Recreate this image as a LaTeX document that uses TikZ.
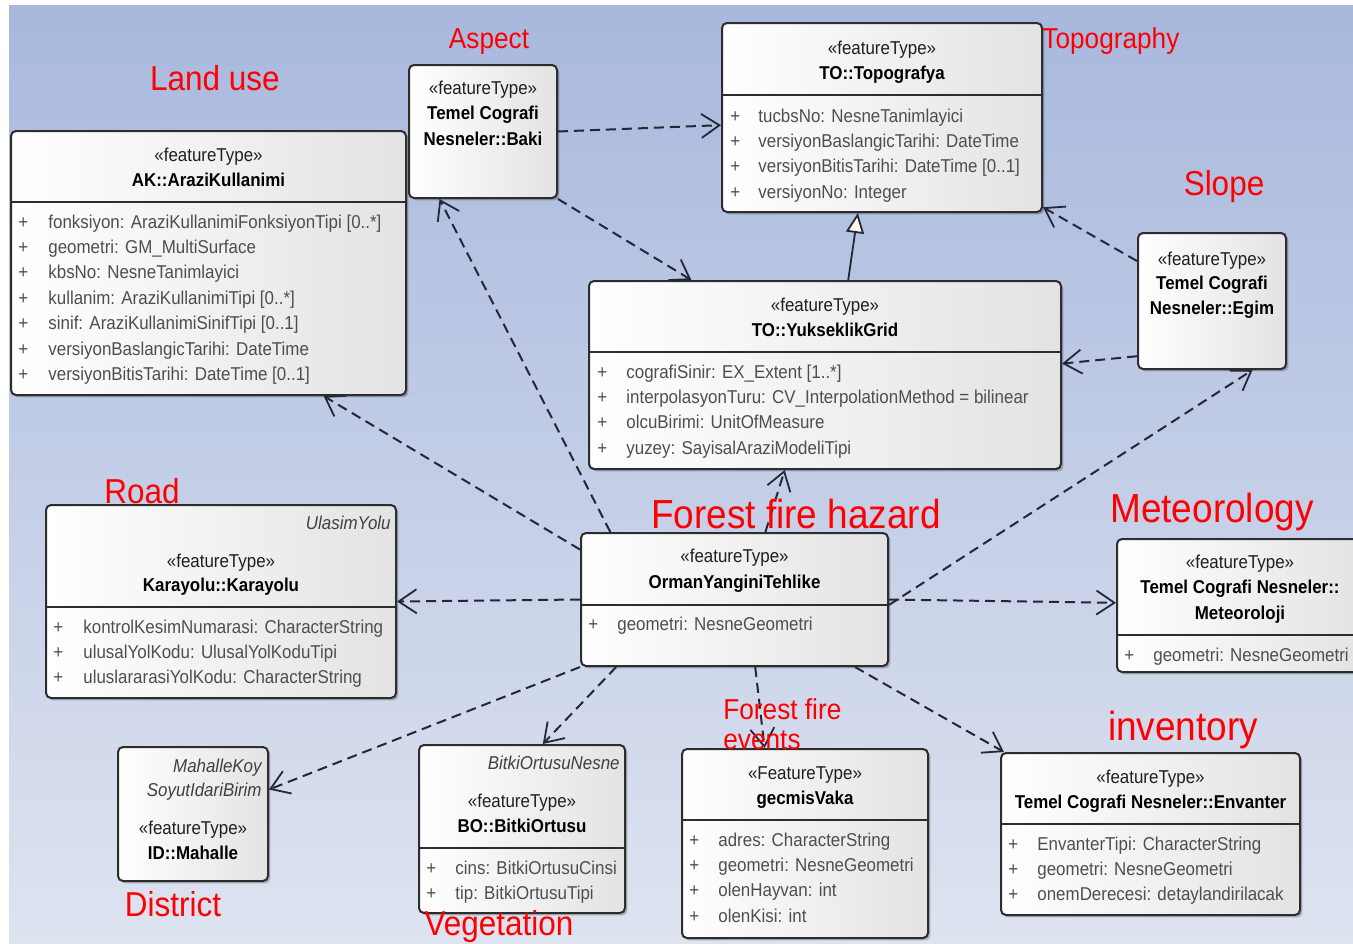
\documentclass[tikz,border=0pt]{standalone}
\usepackage{fontspec}
\setmainfont{Liberation Sans}[FakeStretch=0.91]
\usetikzlibrary{arrows.meta,calc,fit,shadows}

\definecolor{bgtop}{RGB}{168,184,221}
\definecolor{bgbot}{RGB}{222,227,240}
\definecolor{edge}{RGB}{45,45,45}
\definecolor{attrcol}{RGB}{78,78,78}
\definecolor{linecol}{RGB}{35,40,52}
\definecolor{cream}{RGB}{255,250,232}
\definecolor{tagred}{RGB}{255,0,0}

% attribute rows of a class box: #1 box name, #2 x of "+", #3 x of text,
% #4 baseline of first row, #5 rows
\newcommand\attrlist[5]{%
  \foreach \row [count=\k from 0] in {#5}{%
    \node[attr] (#1-p\k) at (#2,#4+25.4*\k) {+};
    \node[attr] (#1-a\k) at (#3,#4+25.4*\k) {\row};
  }}

\begin{document}
\begin{tikzpicture}[x=0.5pt,y=-0.5pt,
  umlbox/.style={draw=edge, line width=1pt, rounded corners=2.5pt, inner sep=0pt,
    left color=white, right color=black!11,
    drop shadow={shadow xshift=1.2pt, shadow yshift=-1.2pt, opacity=0.22, fill=black}},
  divline/.style={draw=edge, line width=1pt},
  boxtxt/.style={inner sep=0pt, anchor=base, font=\fontsize{9.3}{11}\selectfont},
  stereo/.style={boxtxt, text=black!88},
  cname/.style={boxtxt, text=black, font=\fontsize{9.3}{11}\selectfont\bfseries},
  attr/.style={boxtxt, anchor=base west, text=attrcol},
  ital/.style={boxtxt, anchor=base east, text=black!75, font=\fontsize{9.3}{11}\selectfont\itshape},
  tag/.style={inner sep=0pt, anchor=base, text=tagred},
  tagS/.style={tag, font=\fontsize{14.4}{17}\selectfont},
  tagM/.style={tag, font=\fontsize{17.3}{20}\selectfont},
  tagL/.style={tag, font=\fontsize{20.3}{24}\selectfont},
  dep/.style={draw=linecol, line width=1pt, dash pattern=on 5pt off 3pt,
    -{Straight Barb[length=9pt,width=12pt,line width=0.9pt]}},
  gen/.style={draw=linecol, line width=0.9pt,
    -{Triangle[length=10pt,width=9pt,fill=cream,line width=0.9pt]}}
]
\useasboundingbox (0,0) rectangle (1353,943);

% background
\fill[white] (0,0) rectangle (1353,943);
\shade[top color=bgtop, bottom color=bgbot] (9,5) rectangle (1353,943);

% ---------- class boxes ----------
\node[umlbox, fit={(11,131) (406,395)}] (ak) {};
\node[umlbox, fit={(409,65) (557,198)}] (baki) {};
\node[umlbox, fit={(722,23) (1042,212)}] (topo) {};
\node[umlbox, fit={(1138,233) (1286,369)}] (egim) {};
\node[umlbox, fit={(589,281) (1061,469)}] (yuk) {};
\node[umlbox, fit={(46,505) (396,698)}] (kara) {};
\node[umlbox, fit={(581,533) (888,666)}] (orman) {};
\node[umlbox, fit={(1117,539) (1363,672)}] (meteo) {};
\node[umlbox, fit={(118,747) (268,881)}] (mah) {};
\node[umlbox, fit={(419,745) (625,913)}] (bitki) {};
\node[umlbox, fit={(682,749) (928,938)}] (gecmis) {};
\node[umlbox, fit={(1001,753) (1300,915)}] (env) {};

% compartment dividers
\draw[divline] (ak.west |- 0,202) -- (ak.east |- 0,202);
\draw[divline] (topo.west |- 0,95) -- (topo.east |- 0,95);
\draw[divline] (yuk.west |- 0,352) -- (yuk.east |- 0,352);
\draw[divline] (kara.west |- 0,607) -- (kara.east |- 0,607);
\draw[divline] (orman.west |- 0,605) -- (orman.east |- 0,605);
\draw[divline] (meteo.west |- 0,635) -- (meteo.east |- 0,635);
\draw[divline] (bitki.west |- 0,848) -- (bitki.east |- 0,848);
\draw[divline] (gecmis.west |- 0,820) -- (gecmis.east |- 0,820);
\draw[divline] (env.west |- 0,824) -- (env.east |- 0,824);

% ---------- dependencies ----------
\draw[dep] (baki.east) -- ($(topo.north west)!0.54!(topo.south west)$);
\draw[dep] (baki.south east) -- ($(yuk.north west)!0.218!(yuk.north east)$);
\draw[dep] ($(egim.north west)!0.21!(egim.south west)$) -- ($(topo.north east)!0.97!(topo.south east)$);
\draw[dep] ($(egim.north west)!0.9!(egim.south west)$) -- ($(yuk.north east)!0.44!(yuk.south east)$);
\draw[gen] ($(yuk.north west)!0.549!(yuk.north east)$) -- ($(topo.south west)!0.425!(topo.south east)$);
\draw[dep] ($(orman.north west)!0.13!(orman.south west)$) -- ($(ak.south west)!0.79!(ak.south east)$);
\draw[dep] ($(orman.north west)!0.098!(orman.north east)$) -- ($(baki.south west)!0.21!(baki.south east)$);
\draw[dep] ($(orman.north west)!0.6!(orman.north east)$) -- ($(yuk.south west)!0.415!(yuk.south east)$);
\draw[dep] (orman.west) -- (kara.east);
\draw[dep] ($(orman.north east)!0.54!(orman.south east)$) -- ($(egim.south west)!0.77!(egim.south east)$);
\draw[dep] (orman.east) -- ($(meteo.north west)!0.48!(meteo.south west)$);
\draw[dep] (orman.south west) -- ($(mah.north east)!0.32!(mah.south east)$);
\draw[dep] ($(orman.south west)!0.117!(orman.south east)$) -- ($(bitki.north west)!0.6!(bitki.north east)$);
\draw[dep] ($(orman.south west)!0.567!(orman.south east)$) -- ($(gecmis.north west)!0.337!(gecmis.north east)$);
\draw[dep] ($(orman.south west)!0.89!(orman.south east)$) -- ($(env.north west)!0.013!(env.north east)$);

% ---------- box contents ----------
% AK::AraziKullanimi
\node[stereo] (ak-s) at (ak.north |- 0,161) {«featureType»};
\node[cname] (ak-n) at (ak.north |- 0,186) {AK::AraziKullanimi};
\attrlist{ak}{18}{48}{228}{{fonksiyon: AraziKullanimiFonksiyonTipi [0..*]},
  {geometri: GM\_MultiSurface}, {kbsNo: NesneTanimlayici},
  {kullanim: AraziKullanimiTipi [0..*]}, {sinif: AraziKullanimiSinifTipi [0..1]},
  {versiyonBaslangicTarihi: DateTime}, {versiyonBitisTarihi: DateTime [0..1]}}

% Baki
\node[stereo] (baki-s) at (baki.north |- 0,94) {«featureType»};
\node[cname] (baki-n1) at (baki.north |- 0,119) {Temel Cografi};
\node[cname] (baki-n2) at (baki.north |- 0,145) {Nesneler::Baki};

% TO::Topografya
\node[stereo] (topo-s) at (topo.north |- 0,54) {«featureType»};
\node[cname] (topo-n) at (topo.north |- 0,79) {TO::Topografya};
\attrlist{topo}{730}{758}{122}{{tucbsNo: NesneTanimlayici},
  {versiyonBaslangicTarihi: DateTime}, {versiyonBitisTarihi: DateTime [0..1]},
  {versiyonNo: Integer}}

% Egim
\node[stereo] (egim-s) at (egim.north |- 0,265) {«featureType»};
\node[cname] (egim-n1) at (egim.north |- 0,289) {Temel Cografi};
\node[cname] (egim-n2) at (egim.north |- 0,314) {Nesneler::Egim};

% TO::YukseklikGrid
\node[stereo] (yuk-s) at (yuk.north |- 0,311) {«featureType»};
\node[cname] (yuk-n) at (yuk.north |- 0,336) {TO::YukseklikGrid};
\attrlist{yuk}{597}{626}{378}{{cografiSinir: EX\_Extent [1..*]},
  {interpolasyonTuru: CV\_InterpolationMethod = bilinear},
  {olcuBirimi: UnitOfMeasure}, {yuzey: SayisalAraziModeliTipi}}

% Karayolu
\node[ital] (kara-i) at (391,529) {UlasimYolu};
\node[stereo] (kara-s) at (kara.north |- 0,567) {«featureType»};
\node[cname] (kara-n) at (kara.north |- 0,591) {Karayolu::Karayolu};
\attrlist{kara}{53}{83}{633}{{kontrolKesimNumarasi: CharacterString},
  {ulusalYolKodu: UlusalYolKoduTipi}, {uluslararasiYolKodu: CharacterString}}

% OrmanYanginiTehlike
\node[stereo] (orman-s) at (orman.north |- 0,562) {«featureType»};
\node[cname] (orman-n) at (orman.north |- 0,588) {OrmanYanginiTehlike};
\attrlist{orman}{588}{617}{630}{{geometri: NesneGeometri}}

% Meteoroloji
\node[stereo] (meteo-s) at (meteo.north |- 0,568) {«featureType»};
\node[cname] (meteo-n1) at (meteo.north |- 0,593) {Temel Cografi Nesneler::};
\node[cname] (meteo-n2) at (meteo.north |- 0,619) {Meteoroloji};
\attrlist{meteo}{1124}{1153}{661}{{geometri: NesneGeometri}}

% ID::Mahalle
\node[ital] (mah-i1) at (262,772) {MahalleKoy};
\node[ital] (mah-i2) at (262,796) {SoyutIdariBirim};
\node[stereo] (mah-s) at (mah.north |- 0,834) {«featureType»};
\node[cname] (mah-n) at (mah.north |- 0,859) {ID::Mahalle};

% BO::BitkiOrtusu
\node[ital] (bitki-i) at (620,769) {BitkiOrtusuNesne};
\node[stereo] (bitki-s) at (bitki.north |- 0,807) {«featureType»};
\node[cname] (bitki-n) at (bitki.north |- 0,832) {BO::BitkiOrtusu};
\attrlist{bitki}{426}{455}{874}{{cins: BitkiOrtusuCinsi}, {tip: BitkiOrtusuTipi}}

% gecmisVaka
\node[stereo] (gecmis-s) at (gecmis.north |- 0,779) {«FeatureType»};
\node[cname] (gecmis-n) at (gecmis.north |- 0,804) {gecmisVaka};
\attrlist{gecmis}{689}{718}{846}{{adres: CharacterString},
  {geometri: NesneGeometri}, {olenHayvan: int}, {olenKisi: int}}

% Envanter
\node[stereo] (env-s) at (env.north |- 0,783) {«featureType»};
\node[cname] (env-n) at (env.north |- 0,808) {Temel Cografi Nesneler::Envanter};
\attrlist{env}{1008}{1037}{850}{{EnvanterTipi: CharacterString},
  {geometri: NesneGeometri}, {onemDerecesi: detaylandirilacak}}

% ---------- theme labels ----------
\node[tagM] (t-land) at (215,90) {Land use};
\node[tagS] (t-aspect) at (489,48) {Aspect};
\node[tagS, anchor=base west] (t-topo) at (1042,48) {Topography};
\node[tagM] (t-slope) at (1224,195) {Slope};
\node[tagM] (t-road) at (142,503) {Road};
\node[tagL] (t-hazard) at (796,528) {Forest fire hazard};
\node[tagL] (t-meteo) at (1212,522) {Meteorology};
\node[tagS, anchor=base west] (t-events1) at (723,719) {Forest fire};
\node[tagS, anchor=base west] (t-events2) at (723,749) {events};
\node[tagL] (t-inv) at (1183,740) {inventory};
\node[tagM] (t-district) at (173,916) {District};
\node[tagM] (t-veg) at (499,935) {Vegetation};
\end{tikzpicture}
\end{document}
